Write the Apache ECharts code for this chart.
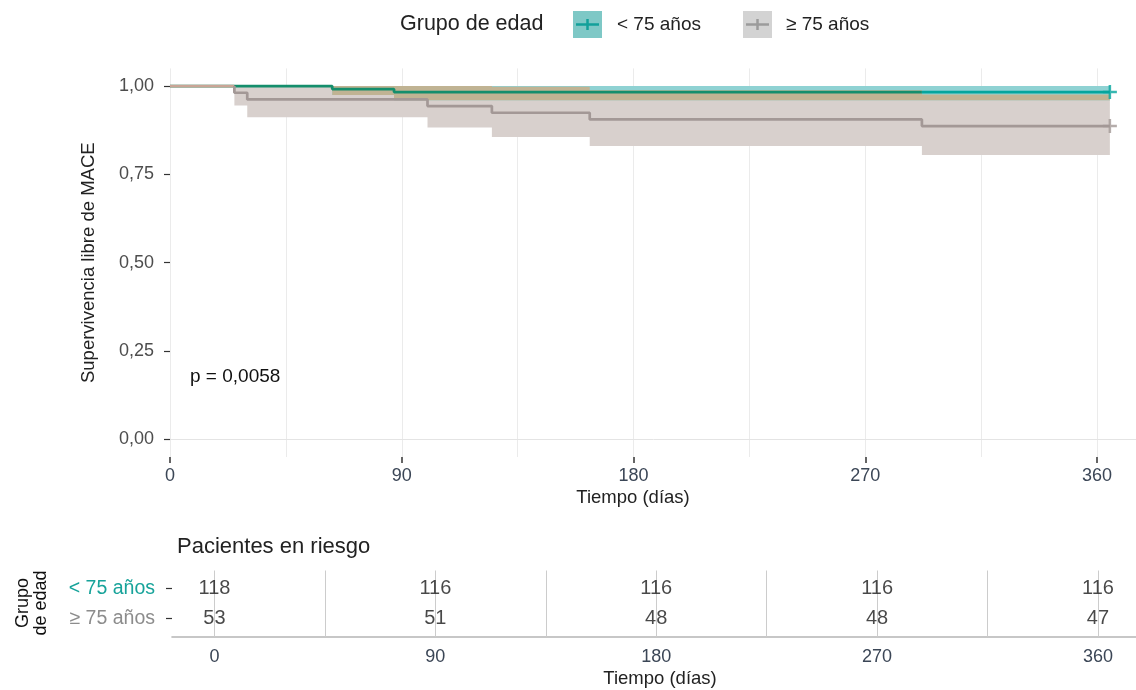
<!DOCTYPE html>
<html>
<head>
<meta charset="utf-8">
<title>Supervivencia libre de MACE por grupo de edad</title>
<script src="https://cdn.jsdelivr.net/npm/echarts@6/dist/echarts.min.js"></script>
<style>
  html, body { margin: 0; padding: 0; background: #ffffff; }
  #chart { width: 1136px; height: 690px; }
</style>
</head>
<body>
<div id="chart"></div>
<script>
// Kaplan-Meier: supervivencia libre de MACE según grupo de edad
const groupNames = ['< 75 años', '≥ 75 años'];

// < 75 años: tiempos de evento (días), estimación y IC 95 %
const youngTimes = [0, 63, 87, 365];
const youngSurv  = [1, 0.9915, 0.9831, 0.9831];
const youngLower = [1, 0.975, 0.960, 0.960];
const youngUpper = [1, 1, 1, 1];

// ≥ 75 años
const oldTimes = [0, 25, 30, 100, 125, 163, 292, 365];
const oldSurv  = [1, 0.9811, 0.9623, 0.9434, 0.9245, 0.9057, 0.8868, 0.8868];
const oldLower = [1, 0.945, 0.912, 0.883, 0.856, 0.830, 0.805, 0.805];
const oldUpper = [1, 1, 1, 1, 0.998, 0.988, 0.976, 0.976];

const xTicks = [0, 90, 180, 270, 360];
const yTicks = [0, 0.25, 0.5, 0.75, 1];

// Tabla de pacientes en riesgo
const riskTimes = [0, 90, 180, 270, 360];
const riskYoung = [118, 116, 116, 116, 116];
const riskOld   = [53, 51, 48, 48, 47];
const riskGridDays = [0, 45, 90, 135, 180, 225, 270, 315, 360];

const pValueText = 'p = 0,0058';

const FONT = '"Liberation Sans", Arial, Helvetica, sans-serif';
const C = {
  teal: '#05a59d',
  tealInBand: '#148e6c',
  tealBand: '#8fd2d3',
  grey: '#a39896',
  greyStart: '#c9a596',
  greyBand: '#d8d0cd',
  overlapBand: '#c0b393',
  tick: '#333333',
  tickLabel: '#4d4d4d',
  xLabel: '#3b4656',
  text: '#222222'
};

function pairs(times, vals) { return times.map((t, i) => [t, vals[i]]); }
function stepAt(times, vals, t) {
  let v = vals[0];
  for (let i = 0; i < times.length; i++) if (times[i] <= t) v = vals[i];
  return v;
}
// Parte una curva escalonada en dos tramos en el instante "cut"
function splitStep(times, vals, cut) {
  const vBefore = stepAt(times, vals, cut - 1e-9);
  const before = [], after = [];
  times.forEach((t, i) => { (t < cut ? before : after).push([t, vals[i]]); });
  before.push([cut, vBefore]);
  after.unshift([cut, vBefore]);
  return [before, after];
}

// Intersección de ambas bandas de confianza
const allTimes = Array.from(new Set(youngTimes.concat(oldTimes))).sort((a, b) => a - b);
const overlapLower = allTimes.map(t => Math.max(stepAt(youngTimes, youngLower, t), stepAt(oldTimes, oldLower, t)));
const overlapUpper = allTimes.map((t, i) => Math.max(overlapLower[i],
  Math.min(stepAt(youngTimes, youngUpper, t), stepAt(oldTimes, oldUpper, t))));

// Banda escalonada dibujada como un polígono sobre las escalas del gráfico
function bandSeries(id, times, lower, upper, color) {
  return {
    type: 'custom', id: id, xAxisIndex: 0, yAxisIndex: 0, silent: true, clip: true,
    data: [[times[0], lower[0]]],
    renderItem: function (params, api) {
      const n = times.length, pts = [];
      for (let i = 0; i < n; i++) {
        const tEnd = i < n - 1 ? times[i + 1] : times[i];
        pts.push(api.coord([times[i], upper[i]]), api.coord([tEnd, upper[i]]));
      }
      for (let i = n - 1; i >= 0; i--) {
        const tEnd = i < n - 1 ? times[i + 1] : times[i];
        pts.push(api.coord([tEnd, lower[i]]), api.coord([times[i], lower[i]]));
      }
      return { type: 'polygon', shape: { points: pts }, style: { fill: color } };
    }
  };
}

const plusPath = 'path://M-1,-0.18L1,-0.18L1,0.18L-1,0.18Z M-0.18,-1L0.18,-1L0.18,1L-0.18,1Z';

// La curva < 75 cambia de tono donde sale de la banda del grupo ≥ 75
const youngParts = splitStep(youngTimes, youngSurv, oldTimes[6]);
const oldParts = splitStep(oldTimes, oldSurv, oldTimes[1]);

function kmLine(id, data, color) {
  return { type: 'line', id: id, data: data, step: 'end', symbol: 'none', silent: true,
    lineStyle: { width: 2.7, color: color }, itemStyle: { color: color },
    xAxisIndex: 0, yAxisIndex: 0 };
}

const zeroLine = kmLine('km-menor-a', youngParts[0], C.tealInBand);
zeroLine.markLine = { silent: true, symbol: 'none', label: { show: false },
  lineStyle: { color: '#e4e4e4', width: 1, type: 'solid' }, data: [{ yAxis: 0 }] };

const riskLabel = { show: true, position: 'inside', formatter: p => p.value[2],
  fontSize: 20, color: '#1a1a1a', fontFamily: FONT };

const series = [
  bandSeries('ic-mayor', oldTimes, oldLower, oldUpper, C.greyBand),
  bandSeries('ic-menor', youngTimes, youngLower, youngUpper, C.tealBand),
  bandSeries('ic-solape', allTimes, overlapLower, overlapUpper, C.overlapBand),
  zeroLine,
  kmLine('km-menor-b', youngParts[1], C.teal),
  kmLine('km-mayor-a', oldParts[0], C.greyStart),
  kmLine('km-mayor-b', oldParts[1], C.grey),
  { type: 'scatter', id: 'censura-menor', silent: true, xAxisIndex: 0, yAxisIndex: 0,
    data: [[youngTimes[youngTimes.length - 1], youngSurv[youngSurv.length - 1]]],
    symbol: plusPath, symbolSize: 14, itemStyle: { color: C.teal } },
  { type: 'scatter', id: 'censura-mayor', silent: true, xAxisIndex: 0, yAxisIndex: 0,
    data: [[oldTimes[oldTimes.length - 1], oldSurv[oldSurv.length - 1]]],
    symbol: plusPath, symbolSize: 14, itemStyle: { color: C.grey } },
  // números en riesgo
  { type: 'scatter', id: 'riesgo-menor', xAxisIndex: 1, yAxisIndex: 1, silent: true, z: 5,
    data: riskTimes.map((t, i) => [t, 1, riskYoung[i]]), symbolSize: 2,
    itemStyle: { color: 'rgba(255,255,255,0)' },
    label: riskLabel,
    markLine: { silent: true, symbol: 'none', label: { show: false }, z: 1,
      lineStyle: { color: '#cccccc', width: 1, type: 'solid' }, data: riskGridDays.map(d => ({ xAxis: d })) } },
  { type: 'scatter', id: 'riesgo-mayor', xAxisIndex: 1, yAxisIndex: 1, silent: true, z: 5,
    data: riskTimes.map((t, i) => [t, 2, riskOld[i]]), symbolSize: 2,
    itemStyle: { color: 'rgba(255,255,255,0)' },
    label: riskLabel }
];

const option = {
  animation: false,
  backgroundColor: '#ffffff',
  textStyle: { fontFamily: FONT },
  grid: [
    { left: 170, top: 68.4, right: -192.75, height: 388.6, outerBoundsMode: 'none' },
    { left: 172, top: 570.5, right: 0, height: 66, outerBoundsMode: 'none' }
  ],
  xAxis: [
    { gridIndex: 0, type: 'value', min: 0, max: 450, interval: 90,
      axisLine: { show: false, onZero: false },
      axisTick: { show: true, length: 6, lineStyle: { color: C.tick, width: 1.5 } },
      axisLabel: { color: C.xLabel, fontSize: 18, margin: 10, fontFamily: FONT },
      splitLine: { show: true, lineStyle: { color: '#ebebeb', width: 1 } },
      minorTick: { show: false, splitNumber: 2 },
      minorSplitLine: { show: true, lineStyle: { color: '#ebebeb', width: 1 } } },
    { gridIndex: 1, type: 'value', min: -17.3, max: 375.5,
      axisLine: { show: true, onZero: false, lineStyle: { color: '#b5b5b5', width: 1.6 } },
      axisTick: { show: false },
      axisLabel: { customValues: xTicks, color: C.xLabel, fontSize: 18, margin: 12, fontFamily: FONT },
      splitLine: { show: false } }
  ],
  yAxis: [
    { gridIndex: 0, type: 'value', min: -0.05, max: 1.05,
      axisLine: { show: false, onZero: false },
      axisTick: { show: true, customValues: yTicks, length: 6, lineStyle: { color: C.tick, width: 1.2 } },
      axisLabel: { customValues: yTicks, formatter: v => v.toFixed(2).replace('.', ','),
        color: C.tickLabel, fontSize: 18, margin: 16, fontFamily: FONT },
      splitLine: { show: false },
      name: 'Supervivencia libre de MACE', nameLocation: 'middle', nameGap: 72,
      nameTextStyle: { fontSize: 18.5, color: C.text, fontFamily: FONT } },
    { gridIndex: 1, type: 'value', min: 0.4, max: 2.6, inverse: true,
      axisLine: { show: false, onZero: false },
      axisTick: { show: true, customValues: [1, 2], length: 6, lineStyle: { color: C.tick, width: 1.2 } },
      axisLabel: { customValues: [1, 2], margin: 17,
        formatter: v => '{g' + v + '|' + groupNames[v - 1] + '}',
        rich: { g1: { color: '#17a39a', fontSize: 19.5, fontFamily: FONT },
                g2: { color: '#8c8c8c', fontSize: 19.5, fontFamily: FONT } } },
      splitLine: { show: false } }
  ],
  graphic: [
    // leyenda
    { type: 'text', x: 400, y: 24, style: { text: 'Grupo de edad', fontSize: 21.5, fill: C.text, fontFamily: FONT, align: 'left', verticalAlign: 'middle' } },
    { type: 'rect', shape: { x: 573, y: 11, width: 29, height: 27 }, style: { fill: '#7ec8c6' } },
    { type: 'line', shape: { x1: 576, y1: 24.5, x2: 599, y2: 24.5 }, style: { stroke: '#12a09a', lineWidth: 2.5 } },
    { type: 'line', shape: { x1: 587.5, y1: 19, x2: 587.5, y2: 30 }, style: { stroke: '#12a09a', lineWidth: 2.5 } },
    { type: 'text', x: 617, y: 25, style: { text: groupNames[0], fontSize: 19, fill: C.text, fontFamily: FONT, align: 'left', verticalAlign: 'middle' } },
    { type: 'rect', shape: { x: 743, y: 11, width: 29, height: 27 }, style: { fill: '#d3d3d3' } },
    { type: 'line', shape: { x1: 746, y1: 24.5, x2: 769, y2: 24.5 }, style: { stroke: '#9b9b9b', lineWidth: 2.5 } },
    { type: 'line', shape: { x1: 757.5, y1: 19, x2: 757.5, y2: 30 }, style: { stroke: '#9b9b9b', lineWidth: 2.5 } },
    { type: 'text', x: 786, y: 25, style: { text: groupNames[1], fontSize: 19, fill: C.text, fontFamily: FONT, align: 'left', verticalAlign: 'middle' } },
    // títulos de eje y anotaciones
    { type: 'text', x: 633, y: 498, style: { text: 'Tiempo (días)', fontSize: 18.5, fill: C.text, fontFamily: FONT, align: 'center', verticalAlign: 'middle' } },
    { type: 'text', x: 190, y: 377, z: 10, style: { text: pValueText, fontSize: 19, fill: '#111111', fontFamily: FONT, align: 'left', verticalAlign: 'middle' } },
    { type: 'text', x: 177, y: 547, style: { text: 'Pacientes en riesgo', fontSize: 22, fill: C.text, fontFamily: FONT, align: 'left', verticalAlign: 'middle' } },
    { type: 'text', x: 660, y: 679, style: { text: 'Tiempo (días)', fontSize: 18.5, fill: C.text, fontFamily: FONT, align: 'center', verticalAlign: 'middle' } },
    { type: 'text', x: 32, y: 603, rotation: Math.PI / 2,
      style: { text: 'Grupo\nde edad', fontSize: 18, lineHeight: 18, fill: '#111111', fontFamily: FONT, align: 'center', verticalAlign: 'middle' } }
  ],
  series: series
};

const chart = echarts.init(document.getElementById('chart'), null, { renderer: 'canvas' });
chart.setOption(option);
</script>
</body>
</html>
